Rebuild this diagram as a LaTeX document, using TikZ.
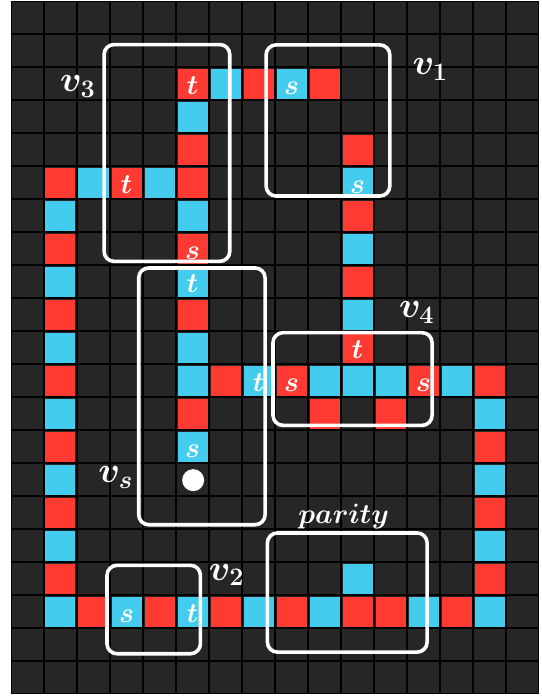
\RequirePackage{fix-cm}
\documentclass[tikz,border=0pt]{standalone}
\usepackage{amsmath,bm}
\usepackage{xcolor}
\usetikzlibrary{positioning}
\definecolor{gridbg}{RGB}{38,38,38}
\definecolor{cellred}{RGB}{255,58,50}
\definecolor{cellblue}{RGB}{68,204,238}

\begin{document}
\begin{tikzpicture}[
    x=33pt, y=-33pt,
    cell/.style={rectangle, minimum size=30pt, inner sep=0pt, text=white, font=\fontsize{28}{30}\selectfont, text height=22pt, text depth=0pt},
    redcell/.style={cell, fill=cellred},
    bluecell/.style={cell, fill=cellblue},
    region/.style={draw=white, line width=3.6pt, rounded corners=10pt},
    lab/.style={text=white, font=\fontsize{36}{40}\selectfont, anchor=base, inner sep=0pt},
    start/.style={circle, fill=white, minimum size=22pt, inner sep=0pt}
]
\useasboundingbox (-0.3333,-0.0303) rectangle (16.0606,21.0606);
\fill[black] (0,0) rectangle (16,21);
\foreach \c in {0,...,15}
  \foreach \r in {0,...,20}
    \fill[gridbg] (\c+0.045,\r+0.045) rectangle (\c+0.955,\r+0.955);

\foreach \c/\r/\l in {5/2/$\bm t$, 7/2/, 9/2/, 5/4/, 10/4/, 1/5/, 3/5/$\bm t$, 5/5/, 10/6/, 1/7/, 5/7/$\bm s$, 10/8/, 1/9/, 5/9/, 10/10/$\bm t$, 1/11/, 6/11/, 8/11/$\bm s$, 12/11/$\bm s$, 14/11/, 5/12/, 9/12/, 11/12/, 1/13/, 14/13/, 1/15/, 14/15/, 1/17/, 14/17/, 2/18/, 4/18/, 6/18/, 8/18/, 10/18/, 11/18/, 13/18/}
  \node[redcell] (cell-\c-\r) at (\c+0.5,\r+0.5) {\l};
\foreach \c/\r/\l in {6/2/, 8/2/$\bm s$, 5/3/, 2/5/, 4/5/, 10/5/$\bm s$, 1/6/, 5/6/, 10/7/, 1/8/, 5/8/$\bm t$, 10/9/, 1/10/, 5/10/, 5/11/, 7/11/$\bm t$, 9/11/, 10/11/, 11/11/, 13/11/, 1/12/, 14/12/, 5/13/$\bm s$, 1/14/, 14/14/, 1/16/, 14/16/, 10/17/, 1/18/, 3/18/$\bm s$, 5/18/$\bm t$, 7/18/, 9/18/, 12/18/, 14/18/}
  \node[bluecell] (cell-\c-\r) at (\c+0.5,\r+0.5) {\l};

\node[start] (dot) at (5.52,14.52) {};

\draw[region] (2.82,1.32) rectangle (6.63,7.89);
\draw[region] (7.73,1.33) rectangle (11.48,5.91);
\draw[region] (7.94,10.05) rectangle (12.76,12.86);
\draw[region] (3.87,8.09) rectangle (7.70,15.87);
\draw[region] (2.91,17.10) rectangle (5.74,19.78);
\draw[region] (7.77,16.12) rectangle (12.61,19.73);

\node[lab] (v3) at (2.02,2.75) {$\bm v_{\mathbf 3}$};
\node[lab] (v1) at (12.70,2.24) {$\bm v_{\mathbf 1}$};
\node[lab] (v4) at (12.29,9.60) {$\bm v_{\mathbf 4}$};
\node[lab] (vs) at (3.17,14.60) {$\bm v_{\bm s}$};
\node[lab] (v2) at (6.53,17.55) {$\bm v_{\mathbf 2}$};
\node[lab, font=\fontsize{28}{30}\selectfont] (parity) at (10.08,15.82) {$\bm{parity}$};
\end{tikzpicture}
\end{document}
